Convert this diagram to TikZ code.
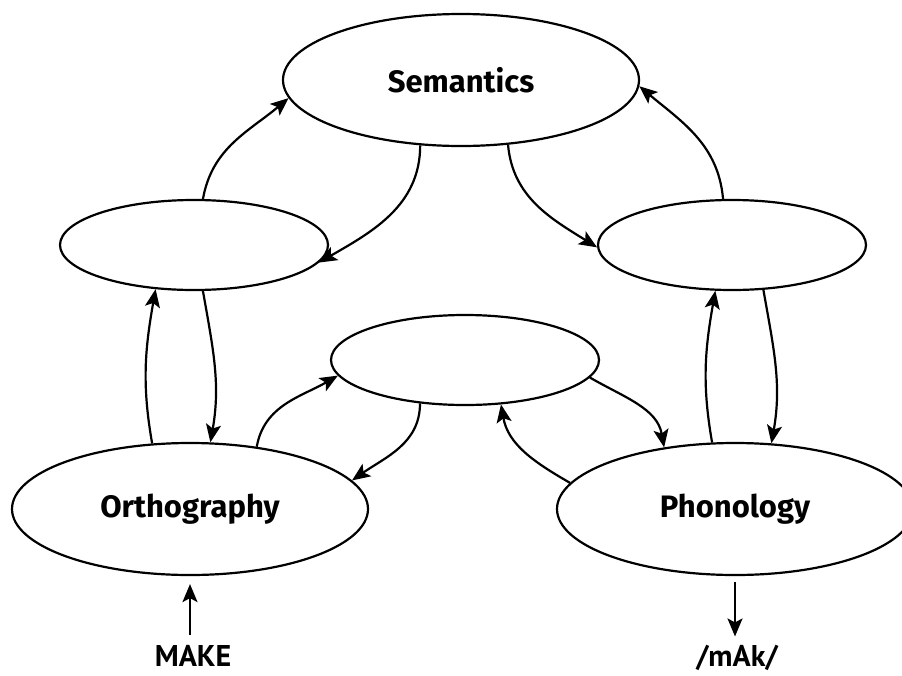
\documentclass[tikz,border=0pt]{standalone}
\usepackage{fontspec}
\setmainfont{Fira Sans}
\newfontfamily\wordfont{PT Sans}
\usepackage{tikz}
\usetikzlibrary{shapes.geometric, arrows.meta}
\tikzset{arrow/.style={line width=2.2pt, -{Stealth[length=18pt, width=15pt, inset=4pt]}}}
\tikzstyle{levelNode} = [
        ellipse,
        draw=black,
        line width=2.2pt,
        inner sep=0pt,
        font=\fontsize{31}{36}\selectfont\bfseries
    ]
\tikzstyle{bigNode} = [levelNode, minimum width=356pt, minimum height=132pt]
\tikzstyle{hiddenNode} = [levelNode, minimum width=268pt, minimum height=90pt]
\tikzstyle{wordNode} = [inner sep=0pt, anchor=base, font=\wordfont\fontsize{30}{36}\selectfont\bfseries]

\begin{document}
\begin{tikzpicture}[x=1pt, y=1pt]
    \useasboundingbox (0,0) rectangle (902,-675);
    \node (sem) [bigNode] at (461,-80) {\raisebox{-5pt}{Semantics}};
    \node (orthSem) [hiddenNode] at (194,-245) {};
    \node (phonSem) [hiddenNode] at (732,-245) {};
    \node (orthPhon) [hiddenNode] at (465,-360) {};
    \node (orth) [bigNode] at (190,-509) {Orthography};
    \node (phon) [bigNode] at (735,-509) {Phonology};
    \node (make) [wordNode] at (193,-666) {MAKE};
    \node (mak) [wordNode] at (737,-666) {/mAk/};
    \draw [arrow] (orthSem.79) to [out = 80, in = 220] (sem.186);
    \draw [arrow] (sem.238) to [out = -90, in = 30] (orthSem.-8);
    \draw [arrow] (sem.306) to [out = -85, in = 148] (phonSem.181);
    \draw [arrow] (phonSem.101) to [out = 95, in = -40] (sem.-2);
    \draw [arrow] (orth.120) to [out = 100, in = -100] (orthSem.229);
    \draw [arrow] (orthSem.281) to [out = -80, in = 80] (orth.73);
    \draw [arrow] (phon.109) to [out = 100, in = -100] (phonSem.250);
    \draw [arrow] (phonSem.305) to [out = -80, in = 80] (phon.61);
    \draw [arrow] (orth.43) to [out = 80, in = 210] (orthPhon.187);
    \draw [arrow] (orthPhon.224) to [out = -90, in = 35] (orth.10);
    \draw [arrow] (orthPhon.-8) to [out = -30, in = 100] (phon.139);
    \draw [arrow] (phon.171) to [out = 150, in = -80] (orthPhon.309);
    \draw [arrow, shorten <=10pt, shorten >=8pt] (orth.south |- make.north) -- (orth.south);
    \draw [arrow, shorten <=6pt, shorten >=8pt] (phon.south) -- (phon.south |- mak.north);
\end{tikzpicture}
\end{document}
